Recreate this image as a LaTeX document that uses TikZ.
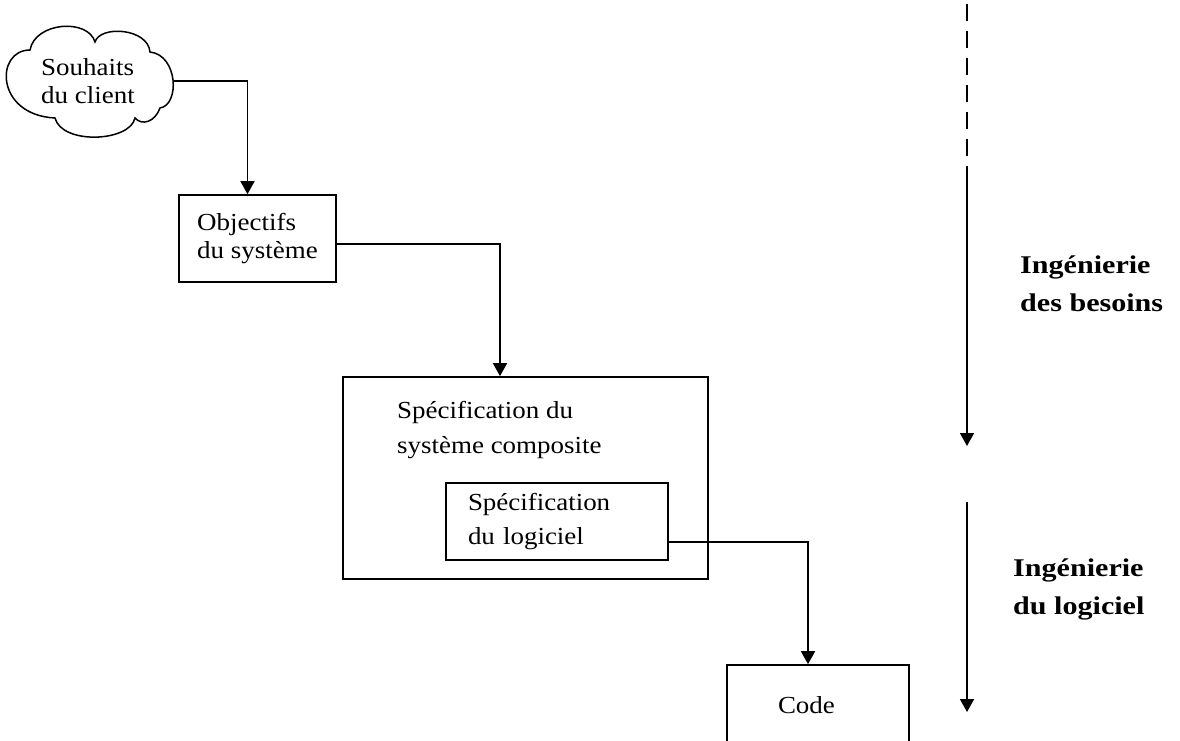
\documentclass[tikz,border=0pt]{standalone}
\usepackage{fontspec}
\setmainfont{Liberation Serif}[FakeStretch=1.1]
\newfontfamily\phasefont{Liberation Serif}[FakeStretch=1.18]
\usetikzlibrary{arrows.meta}

\begin{document}
\begin{tikzpicture}[x=1pt,y=-1pt,
  every node/.style={font=\fontsize{24.5}{28}\selectfont},
  box/.style={draw,line width=1.7pt,inner sep=0pt},
  flow/.style={line width=1.7pt,-{Triangle[width=14pt,length=13pt]}},
  phase/.style={line width=1.7pt},
  phaselabel/.style={font=\phasefont\bfseries\fontsize{25.5}{38}\selectfont,
    align=left,anchor=west,inner sep=0pt}
]
\clip (0,0) rectangle (1180,741);
\fill[white] (0,0) rectangle (1180,741);

% customer wishes, drawn as a cloud
\draw[line width=1.5pt]
  (30,50) .. controls (35,22) and (88,18) .. (95,42)
  .. controls (100,25) and (148,28) .. (150,52)
  .. controls (178,55) and (180,105) .. (160,108)
  .. controls (155,122) and (142,126) .. (135,118)
  .. controls (130,142) and (62,145) .. (55,118)
  .. controls (-5,115) and (-5,50) .. (30,50) -- cycle;
\node[inner sep=0pt,minimum width=169pt,minimum height=107pt,align=left]
  (cloud) at (88,81) {Souhaits\\du client};

% boxes
\node[box,minimum width=157pt,minimum height=87pt,align=left]
  (obj) at (257.5,238.5) {Objectifs\\du système};
\node[box,minimum width=365pt,minimum height=202pt] (comp) at (525.5,478) {};
\node[anchor=north west,inner sep=0pt,align=left,font=\fontsize{24.5}{35}\selectfont]
  (comptitle) at (397,401) {Spécification du\\système composite};
\node[box,minimum width=222pt,minimum height=77pt,text width=178pt,inner xsep=22pt,
  align=left,font=\fontsize{24.5}{34}\selectfont]
  (soft) at (557,521.5) {Spécification\\du logiciel};
\node[box,minimum width=182pt,minimum height=80pt,text width=80pt,inner xsep=51pt,
  align=left] (code) at (818,705) {Code};

% flow between the stages
\draw[flow] (cloud.east) -| ([xshift=-10pt]obj.north);
\draw[flow] ([yshift=-5.5pt]obj.east) -| ([xshift=-25.5pt]comp.north);
\draw[flow] ([yshift=-20.5pt]soft.east) -| ([xshift=-10pt]code.north);

% phase axis on the right
\coordinate (rtop) at (967,4);
\coordinate (rsplit) at (967,177);
\coordinate (rend) at (967,446);
\coordinate (sstart) at (967,502);
\coordinate (send) at (967,712);
\draw[phase,dash pattern=on 17pt off 10pt] (rtop) -- (rsplit);
\draw[flow] (rsplit) -- (rend);
\draw[flow] (sstart) -- (send);

\node[phaselabel] (req) at (1020,284) {Ingénierie\\des besoins};
\node[phaselabel] (swe) at (1013,589) {Ingénierie\\du logiciel};
\end{tikzpicture}
\end{document}
